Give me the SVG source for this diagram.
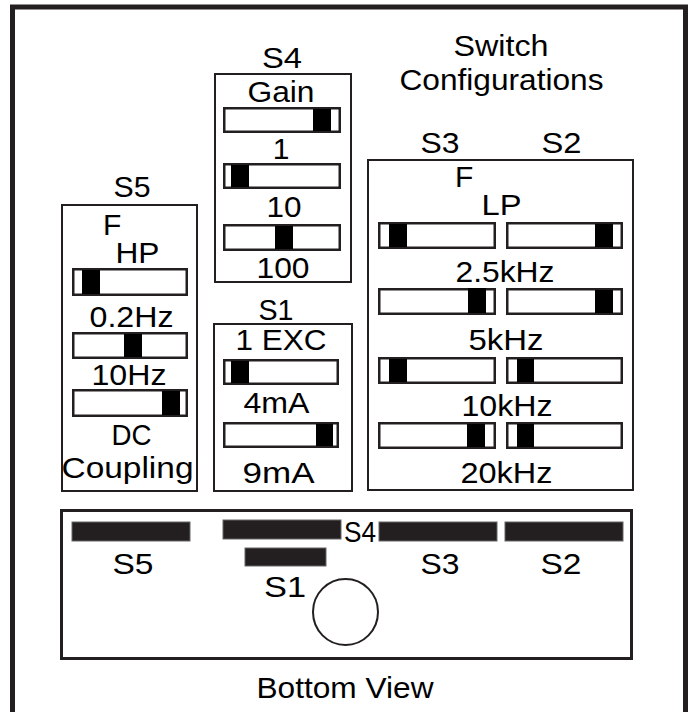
<svg xmlns="http://www.w3.org/2000/svg" width="690" height="712" viewBox="0 0 690 712">
<style>
.t{font-family:"Liberation Sans",Arial,Helvetica,sans-serif;font-size:30px;fill:#000;text-anchor:middle}
.big{font-size:30px}
.box{fill:#fff;stroke:#231f20;stroke-width:2}
.sw{fill:#fff;stroke:#231f20;stroke-width:2.5}
.kn{fill:#000}
.bar{fill:#231f20;stroke:#666;stroke-width:1}
</style>
<rect width="690" height="712" fill="#fff"/>
<path d="M12.5,712 V7 H685.5 V712" fill="none" stroke="#231f20" stroke-width="5"/>
<g id="title">
<text class="t big" x="501" y="56" textLength="95" lengthAdjust="spacingAndGlyphs">Switch</text>
<text class="t big" x="501.5" y="90" textLength="204" lengthAdjust="spacingAndGlyphs">Configurations</text>
</g>
<g id="connectors"/>
<g id="s4">
<text class="t" x="282" y="68" textLength="40" lengthAdjust="spacingAndGlyphs">S4</text>
<rect class="box" x="215" y="74" width="136" height="208"/>
<text class="t" x="281" y="102" textLength="67" lengthAdjust="spacingAndGlyphs">Gain</text>
<rect class="sw" x="224.25" y="108.25" width="115.5" height="23.5"/>
<rect class="kn" x="313" y="109" width="18" height="22"/>
<text class="t" x="281" y="159">1</text>
<rect class="sw" x="224.25" y="164.25" width="115.5" height="23.5"/>
<rect class="kn" x="231" y="165" width="18" height="22"/>
<text class="t" x="284" y="217" textLength="35" lengthAdjust="spacingAndGlyphs">10</text>
<rect class="sw" x="224.25" y="225.25" width="115.5" height="24.5"/>
<rect class="kn" x="275" y="226" width="18" height="23"/>
<text class="t" x="283" y="278" textLength="53" lengthAdjust="spacingAndGlyphs">100</text>
</g>
<g id="s5">
<text class="t" x="132" y="197" textLength="37" lengthAdjust="spacingAndGlyphs">S5</text>
<rect class="box" x="62" y="205" width="135" height="286"/>
<text class="t" x="103" y="235" style="text-anchor:start">F</text>
<text class="t" x="137.5" y="263" textLength="44" lengthAdjust="spacingAndGlyphs">HP</text>
<rect class="sw" x="73.25" y="269.25" width="113.5" height="25.5"/>
<rect class="kn" x="82" y="270" width="18" height="24"/>
<text class="t" x="131.5" y="327" textLength="84" lengthAdjust="spacingAndGlyphs">0.2Hz</text>
<rect class="sw" x="73.25" y="333.25" width="113.5" height="24.5"/>
<rect class="kn" x="124" y="334" width="18" height="23"/>
<text class="t" x="129" y="385" textLength="75" lengthAdjust="spacingAndGlyphs">10Hz</text>
<rect class="sw" x="73.25" y="390.25" width="113.5" height="25.5"/>
<rect class="kn" x="162" y="391" width="18" height="24"/>
<text class="t" x="131.5" y="445" textLength="40" lengthAdjust="spacingAndGlyphs">DC</text>
<text class="t" x="127.5" y="478" textLength="132" lengthAdjust="spacingAndGlyphs">Coupling</text>
</g>
<g id="s1">
<text class="t" x="276" y="320" textLength="35" lengthAdjust="spacingAndGlyphs">S1</text>
<rect class="box" x="214" y="324" width="138" height="167"/>
<text class="t" x="281" y="350" textLength="91" lengthAdjust="spacingAndGlyphs">1 EXC</text>
<rect class="sw" x="224.25" y="360.25" width="113.5" height="23.5"/>
<rect class="kn" x="231" y="361" width="18" height="22"/>
<text class="t" x="276.5" y="413" textLength="66" lengthAdjust="spacingAndGlyphs">4mA</text>
<rect class="sw" x="224.25" y="423.25" width="113.5" height="23.5"/>
<rect class="kn" x="316" y="424" width="17" height="22"/>
<text class="t" x="278.5" y="483" textLength="72" lengthAdjust="spacingAndGlyphs">9mA</text>
</g>
<g id="s3s2">
<text class="t" x="440" y="153" textLength="39" lengthAdjust="spacingAndGlyphs">S3</text>
<text class="t" x="561.5" y="153" textLength="40" lengthAdjust="spacingAndGlyphs">S2</text>
<rect class="box" x="368" y="160" width="265" height="330"/>
<text class="t" x="455" y="187" style="text-anchor:start">F</text>
<text class="t" x="501.5" y="215" textLength="40" lengthAdjust="spacingAndGlyphs">LP</text>
<rect class="sw" x="379.25" y="223.25" width="115.5" height="24.5"/>
<rect class="kn" x="389" y="224" width="18" height="23"/>
<rect class="sw" x="507.25" y="223.25" width="114.5" height="24.5"/>
<rect class="kn" x="595" y="224" width="18" height="23"/>
<text class="t" x="505" y="282" textLength="99" lengthAdjust="spacingAndGlyphs">2.5kHz</text>
<rect class="sw" x="379.25" y="289.25" width="115.5" height="24.5"/>
<rect class="kn" x="468" y="288" width="18" height="25"/>
<rect class="sw" x="507.25" y="289.25" width="114.5" height="24.5"/>
<rect class="kn" x="595" y="290" width="18" height="23"/>
<text class="t" x="506" y="350" textLength="75" lengthAdjust="spacingAndGlyphs">5kHz</text>
<rect class="sw" x="379.25" y="358.25" width="115.5" height="24.5"/>
<rect class="kn" x="389" y="359" width="18" height="23"/>
<rect class="sw" x="507.25" y="358.25" width="114.5" height="24.5"/>
<rect class="kn" x="517" y="359" width="17" height="23"/>
<text class="t" x="507" y="416" textLength="91" lengthAdjust="spacingAndGlyphs">10kHz</text>
<rect class="sw" x="379.25" y="423.25" width="115.5" height="24.5"/>
<rect class="kn" x="467" y="424" width="18" height="23"/>
<rect class="sw" x="507.25" y="423.25" width="114.5" height="24.5"/>
<rect class="kn" x="517" y="424" width="17" height="23"/>
<text class="t" x="506.5" y="483" textLength="92" lengthAdjust="spacingAndGlyphs">20kHz</text>
</g>
<g id="bottom-view">
<rect x="61.5" y="510.5" width="570" height="148" fill="none" stroke="#231f20" stroke-width="3"/>
<rect class="bar" x="72" y="522" width="118" height="19"/>
<rect class="bar" x="223" y="520" width="118" height="19"/>
<rect class="bar" x="245" y="548" width="81" height="18"/>
<rect class="bar" x="379" y="522" width="118" height="19"/>
<rect class="bar" x="505" y="522" width="118" height="19"/>
<ellipse cx="345.5" cy="612" rx="32.5" ry="33" fill="none" stroke="#231f20" stroke-width="2"/>
<text class="t big" x="360" y="542" textLength="32" lengthAdjust="spacingAndGlyphs">S4</text>
<text class="t big" x="133" y="574" textLength="41" lengthAdjust="spacingAndGlyphs">S5</text>
<text class="t big" x="285" y="597" textLength="42" lengthAdjust="spacingAndGlyphs">S1</text>
<text class="t big" x="440" y="574" textLength="39" lengthAdjust="spacingAndGlyphs">S3</text>
<text class="t big" x="561" y="574" textLength="41" lengthAdjust="spacingAndGlyphs">S2</text>
<text class="t big" x="345" y="698" textLength="177" lengthAdjust="spacingAndGlyphs">Bottom View</text>
</g>
</svg>
